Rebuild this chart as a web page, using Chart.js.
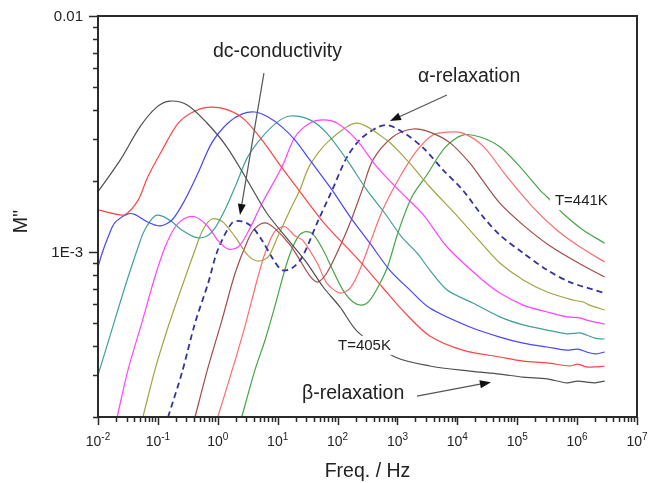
<!DOCTYPE html>
<html>
<head>
<meta charset="utf-8">
<script src="https://cdn.jsdelivr.net/npm/chart.js@4.4.1/dist/chart.umd.min.js"></script>
<style>
  html, body { margin: 0; padding: 0; background: #fff; }
  #wrap { width: 663px; height: 483px; }
</style>
</head>
<body>
<div id="wrap"><canvas id="c" width="663" height="483"></canvas></div>
<script>
// frequency given as log10(f / Hz), M'' given in units of 1e-3
const lg405 = [-2.00,-1.63,-1.30,-1.02,-0.80,-0.51,-0.18,0.15,0.49,0.82,1.21,1.49,1.76,2.04,2.34,2.96,3.54,4.21,4.71,5.10,5.50,5.83,6.01,6.16,6.30,6.46];
const m405  = [1.80,2.45,3.39,4.11,4.36,4.20,3.52,2.79,2.02,1.46,1.10,0.898,0.711,0.585,0.458,0.359,0.329,0.313,0.304,0.295,0.290,0.279,0.284,0.281,0.279,0.284];

const lg409 = [-2.00,-1.72,-1.55,-1.33,-1.17,-0.93,-0.66,-0.38,-0.10,0.17,0.45,0.74,1.00,1.29,1.76,2.32,2.76,3.16,3.54,4.09,4.71,5.10,5.50,5.88,6.01,6.16,6.30,6.46];
const m409  = [1.51,1.45,1.44,1.66,2.08,2.70,3.52,3.96,4.11,4.00,3.63,2.98,2.41,1.92,1.34,0.944,0.704,0.541,0.441,0.384,0.359,0.345,0.339,0.329,0.335,0.326,0.326,0.329];

const lg413 = [-2.00,-1.93,-1.83,-1.72,-1.50,-1.38,-1.17,-0.96,-0.76,-0.55,-0.33,-0.10,0.17,0.40,0.62,0.84,1.07,1.29,1.54,1.91,2.21,2.54,2.87,3.21,3.54,4.21,4.71,5.10,5.50,5.83,6.01,6.16,6.30,6.46];
const m413  = [0.864,0.99,1.16,1.33,1.45,1.44,1.34,1.29,1.37,1.66,2.16,2.90,3.52,3.84,3.92,3.73,3.39,2.98,2.45,1.83,1.41,1.09,0.839,0.690,0.579,0.481,0.436,0.411,0.396,0.384,0.388,0.377,0.370,0.377];

const lg417 = [-2.00,-1.77,-1.55,-1.33,-1.22,-1.05,-0.93,-0.76,-0.60,-0.35,-0.18,-0.05,0.12,0.29,0.50,0.74,1.00,1.21,1.54,1.82,2.16,2.49,2.79,3.08,3.33,3.54,3.83,4.26,4.71,5.10,5.50,5.83,6.05,6.16,6.30,6.46];
const m417  = [0.301,0.467,0.711,1.05,1.24,1.42,1.42,1.34,1.24,1.15,1.17,1.26,1.51,1.89,2.53,3.07,3.56,3.77,3.63,3.19,2.45,1.83,1.46,1.15,0.99,0.839,0.690,0.608,0.531,0.491,0.467,0.450,0.454,0.445,0.432,0.428];

const lg421 = [-1.68,-1.50,-1.27,-1.05,-0.88,-0.71,-0.55,-0.38,-0.16,0.00,0.17,0.34,0.50,0.74,1.07,1.29,1.54,1.76,1.99,2.32,2.66,3.04,3.43,3.83,4.38,4.71,5.10,5.50,5.83,6.05,6.16,6.46];
const m421  = [0.200,0.316,0.500,0.784,1.05,1.28,1.39,1.41,1.28,1.12,1.03,1.05,1.21,1.61,2.29,3.07,3.52,3.63,3.52,2.98,2.29,1.81,1.44,1.05,0.776,0.670,0.596,0.557,0.531,0.526,0.515,0.495];

const lg425 = [-1.25,-1.05,-0.83,-0.60,-0.38,-0.25,-0.10,0.07,0.29,0.50,0.67,0.84,1.00,1.21,1.37,1.54,1.87,2.32,2.82,3.16,3.54,4.01,4.43,4.71,5.10,5.50,5.93,6.10,6.21,6.46];
const m425  = [0.200,0.316,0.481,0.711,1.02,1.24,1.38,1.35,1.16,0.97,0.916,0.953,1.16,1.51,1.83,2.34,2.98,3.52,2.98,2.45,1.89,1.41,1.07,0.898,0.761,0.677,0.626,0.614,0.596,0.568];

const lg429 = [-0.83,-0.60,-0.38,-0.16,0.00,0.24,0.40,0.57,0.74,0.90,1.07,1.24,1.41,1.66,1.91,2.16,2.42,2.79,3.09,3.43,3.76,4.09,4.43,4.71,5.10,5.50,5.88,6.46];
const m429  = [0.200,0.307,0.500,0.739,1.02,1.33,1.35,1.28,1.12,0.953,0.839,0.855,0.953,1.33,1.83,2.53,3.07,3.45,3.22,2.76,2.23,1.83,1.41,1.18,0.99,0.839,0.746,0.670];

const lg433 = [-0.38,-0.16,0.07,0.29,0.50,0.62,0.79,0.95,1.21,1.37,1.54,1.67,1.82,1.99,2.21,2.41,2.59,2.92,3.26,3.54,3.88,4.21,4.38,4.71,5.10,5.55,6.05,6.46];
const m433  = [0.200,0.326,0.515,0.815,1.12,1.26,1.33,1.26,1.07,0.925,0.791,0.746,0.815,0.99,1.33,1.83,2.45,3.07,3.32,3.22,2.90,2.38,2.08,1.61,1.30,1.06,0.890,0.784];

const lg437 = [0.00,0.24,0.45,0.67,0.79,0.95,1.12,1.29,1.42,1.66,1.82,2.04,2.21,2.37,2.54,2.76,3.04,3.33,3.59,3.83,4.09,4.43,4.83,5.26,5.66,6.05,6.46];
const m437  = [0.200,0.316,0.481,0.784,0.99,1.22,1.28,1.17,1.12,0.898,0.739,0.670,0.703,0.839,1.09,1.52,2.08,2.70,3.13,3.22,3.19,2.81,2.08,1.55,1.24,1.05,0.907];

const lg441 = [0.40,0.62,0.79,0.95,1.17,1.34,1.47,1.59,1.76,1.92,2.09,2.26,2.41,2.54,2.71,2.84,3.01,3.24,3.49,3.79,4.09,4.38,4.71,5.05,5.38,5.50,5.76,6.10,6.46];
const m441  = [0.200,0.316,0.424,0.585,0.925,1.16,1.22,1.19,1.02,0.839,0.690,0.614,0.596,0.626,0.739,0.873,1.21,1.71,2.12,2.76,3.13,3.07,2.79,2.29,1.83,1.71,1.46,1.24,1.09];

const temps  = ['405K','409K','413K','417K','421K','425K','429K','433K','437K','441K'];
const series = [[lg405,m405],[lg409,m409],[lg413,m413],[lg417,m417],[lg421,m421],
                [lg425,m425],[lg429,m429],[lg433,m433],[lg437,m437],[lg441,m441]];
const colors = ['#4f4f4f','#ff4444','#4646ff','#40a09a','#ff44ff','#a3a343','#33339e','#a34b4b','#ff6c6c','#45a645'];

const FONT = '"Liberation Sans", Arial, sans-serif';

// annotations, anchored in data coordinates (Hz, M'')
const notes = [
  { text: 'dc-conductivity', f: 0.83, m: 6.70e-3 },
  { text: '\u03b1-relaxation',  f: 2200, m: 5.25e-3 },
  { text: '\u03b2-relaxation',  f: 25.5, m: 2.38e-4 }
];
const arrows = [
  { from: [5.9, 5.73e-3],  to: [2.35, 1.435e-3] },
  { from: [6700, 4.63e-3], to: [750, 3.59e-3] },
  { from: [2120, 2.45e-4], to: [36400, 2.81e-4] }
];
const tempLabels = [
  { text: 'T=441K', f: 4.26e5, m: 1.58e-3 },
  { text: 'T=405K', f: 101.6, m: 3.85e-4 }
];

const datasets = series.map(([lg, m], i) => ({
  label: 'T=' + temps[i],
  data: lg.map((v, k) => ({ x: Math.pow(10, v), y: m[k] * 1e-3 })),
  borderColor: colors[i],
  borderWidth: i === 6 ? 1.8 : 1.2,
  borderDash: i === 6 ? [6, 4] : [],
  pointRadius: 0,
  fill: false,
  tension: 0.3
}));

function arrow(ctx, x0, y0, x1, y1) {
  const ang = Math.atan2(y1 - y0, x1 - x0);
  const len = 11, hw = 4;
  const bx = x1 - len * Math.cos(ang), by = y1 - len * Math.sin(ang);
  ctx.strokeStyle = '#555';
  ctx.lineWidth = 1.2;
  ctx.beginPath();
  ctx.moveTo(x0, y0);
  ctx.lineTo(bx, by);
  ctx.stroke();
  ctx.fillStyle = '#111';
  ctx.beginPath();
  ctx.moveTo(x1, y1);
  ctx.lineTo(bx + hw * Math.sin(ang), by - hw * Math.cos(ang));
  ctx.lineTo(bx - hw * Math.sin(ang), by + hw * Math.cos(ang));
  ctx.closePath();
  ctx.fill();
}

const decor = {
  id: 'decor',
  afterDatasetsDraw(chart) {
    const { ctx, chartArea: a, scales: { x, y } } = chart;
    ctx.save();
    ctx.textBaseline = 'alphabetic';
    ctx.textAlign = 'left';

    // temperature labels with a white box that cuts the curve
    ctx.font = '15px ' + FONT;
    tempLabels.forEach(t => {
      const px = x.getPixelForValue(t.f), py = y.getPixelForValue(t.m);
      const w = ctx.measureText(t.text).width;
      ctx.fillStyle = '#fff';
      ctx.fillRect(px - 5, py - 14, w + 10, 19);
      ctx.fillStyle = '#222';
      ctx.fillText(t.text, px, py);
    });

    ctx.font = '19.5px ' + FONT;
    ctx.fillStyle = '#222';
    notes.forEach(n => ctx.fillText(n.text, x.getPixelForValue(n.f), y.getPixelForValue(n.m)));

    arrows.forEach(r => arrow(ctx,
      x.getPixelForValue(r.from[0]), y.getPixelForValue(r.from[1]),
      x.getPixelForValue(r.to[0]), y.getPixelForValue(r.to[1])));

    // frame
    ctx.strokeStyle = '#2a2a2a';
    ctx.lineWidth = 2;
    ctx.strokeRect(a.left, a.top, a.right - a.left, a.bottom - a.top);

    // ticks
    ctx.lineWidth = 1.5;
    ctx.beginPath();
    for (let e = -2; e <= 7; e++) {
      for (let k = 1; k <= 9; k++) {
        if (e === 7 && k > 1) break;
        const px = Math.round(x.getPixelForValue(k * Math.pow(10, e))) + 0.5;
        ctx.moveTo(px, a.bottom);
        ctx.lineTo(px, a.bottom + (k === 1 ? 8 : 5));
      }
    }
    for (let e = -4; e <= -2; e++) {
      for (let k = 1; k <= 9; k++) {
        const v = k * Math.pow(10, e);
        if (v < 1.99e-4 || v > 1.001e-2) continue;
        const py = Math.round(y.getPixelForValue(v)) + 0.5;
        ctx.moveTo(a.left, py);
        ctx.lineTo(a.left - (k === 1 ? 9 : 5), py);
      }
    }
    ctx.stroke();

    // x tick labels 10^n
    ctx.fillStyle = '#222';
    for (let e = -2; e <= 7; e++) {
      const px = x.getPixelForValue(Math.pow(10, e));
      ctx.font = '14px ' + FONT;
      const bw = ctx.measureText('10').width;
      ctx.font = '10px ' + FONT;
      const ew = ctx.measureText(String(e)).width;
      const left = px - (bw + ew) / 2;
      ctx.font = '14px ' + FONT;
      ctx.fillText('10', left, a.bottom + 29);
      ctx.font = '10px ' + FONT;
      ctx.fillText(String(e), left + bw, a.bottom + 23);
    }

    // y tick labels
    ctx.font = '15px ' + FONT;
    ctx.textAlign = 'right';
    ctx.textBaseline = 'middle';
    ctx.fillText('0.01', a.left - 15, y.getPixelForValue(1e-2) + 1);
    ctx.fillText('1E-3', a.left - 15, y.getPixelForValue(1e-3) + 1);

    // axis titles
    ctx.font = '19.5px ' + FONT;
    ctx.textAlign = 'center';
    ctx.textBaseline = 'alphabetic';
    ctx.fillText('Freq. / Hz', (a.left + a.right) / 2, a.bottom + 60);
    ctx.save();
    ctx.translate(a.left - 71, (a.top + a.bottom) / 2 + 5);
    ctx.rotate(-Math.PI / 2);
    ctx.fillText("M''", 0, 0);
    ctx.restore();

    ctx.restore();
  }
};

new Chart(document.getElementById('c'), {
  type: 'line',
  data: { datasets },
  options: {
    responsive: false,
    animation: false,
    layout: { padding: { left: 0, top: 16, right: 26, bottom: 0 } },
    plugins: { legend: { display: false }, tooltip: { enabled: false } },
    scales: {
      x: {
        type: 'logarithmic', min: 0.01, max: 1e7,
        ticks: { display: false }, grid: { display: false }, border: { display: false },
        afterFit: s => { s.height = 66; }
      },
      y: {
        type: 'logarithmic', min: 2e-4, max: 0.01,
        ticks: { display: false }, grid: { display: false }, border: { display: false },
        afterFit: s => { s.width = 98; }
      }
    }
  },
  plugins: [decor]
});
</script>
</body>
</html>
